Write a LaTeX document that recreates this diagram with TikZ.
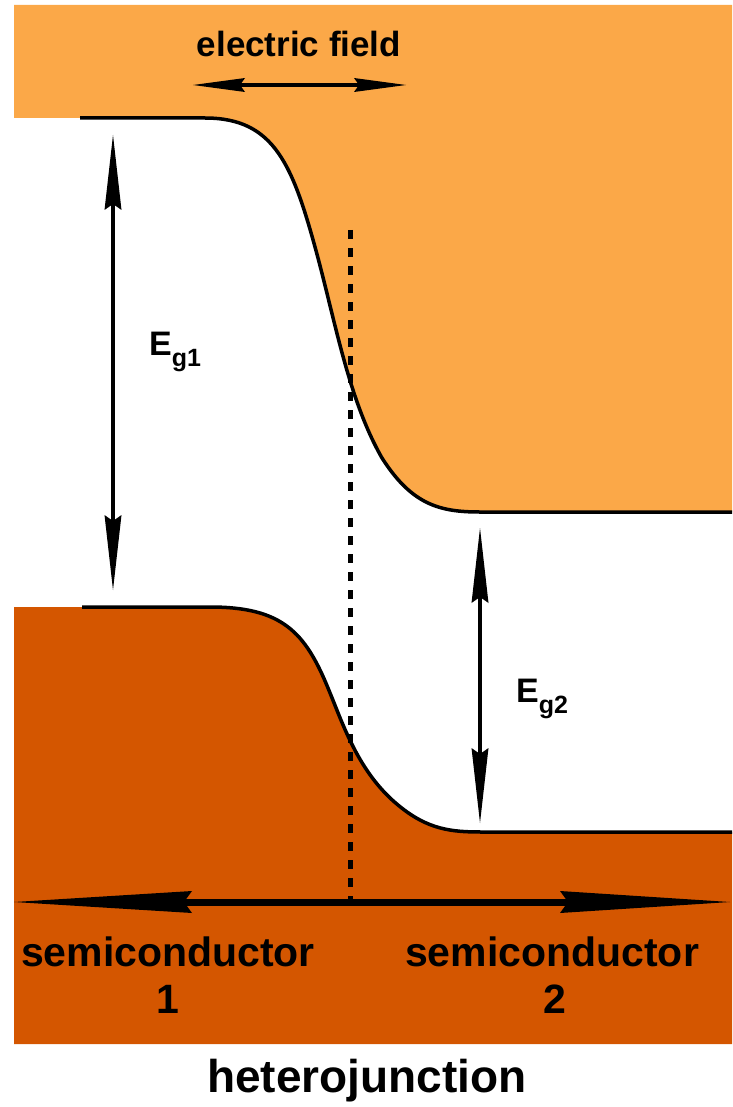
\documentclass[tikz,border=0pt]{standalone}
\usepackage{fontspec}
\setmainfont{Liberation Sans}
\usetikzlibrary{arrows.meta}
\definecolor{lightor}{RGB}{251,168,72}
\definecolor{darkor}{RGB}{212,86,0}
\def\uppercurve{(80,118) -- (205,118) .. controls (275,118) and (293,165) .. (318,258) .. controls (337,330) and (350,402) .. (382,458) .. controls (412,505) and (440,512) .. (480,512) -- (732,512)}
\def\lowercurve{(82,607) -- (210,607) .. controls (282,607) and (305,632) .. (328,688) .. controls (343,724) and (358,772) .. (398,805) .. controls (428,830) and (452,832) .. (482,832) -- (732,832)}
\tikzset{
  band/.style={line width=3.5pt, draw=black},
  lbl/.style={font=\bfseries, inner sep=0pt, text=black},
  gaparrow/.style={line width=4.5pt, {Stealth[length=75pt,width=17pt,inset=6pt,line width=0pt]}-{Stealth[length=75pt,width=17pt,inset=6pt,line width=0pt]}},
  fieldarrow/.style={line width=4.5pt, {Stealth[length=52pt,width=14pt,inset=5pt,line width=0pt]}-{Stealth[length=52pt,width=14pt,inset=5pt,line width=0pt]}},
  axisarrow/.style={line width=7pt, {Stealth[length=178pt,width=22pt,inset=8pt,line width=0pt]}-{Stealth[length=170pt,width=22pt,inset=8pt,line width=0pt]}},
  junction/.style={line width=5pt, dash pattern=on 9pt off 9pt}
}
\begin{document}
\begin{tikzpicture}[x=1pt,y=-1pt]
\useasboundingbox (0,0) rectangle (732,1107);
% fills
\fill[lightor] (14,5) -- (14,118) -- \uppercurve -- (732,5) -- cycle;
\fill[darkor] (14,1044) -- (14,607) -- \lowercurve -- (732,1044) -- cycle;
% band edges
\draw[band] \uppercurve;
\draw[band] \lowercurve;
% coordinates
\coordinate (ef1) at (193,85);
\coordinate (ef2) at (406,85);
\coordinate (g1t) at (113,135);
\coordinate (g1b) at (113,590);
\coordinate (g2t) at (480,528);
\coordinate (g2b) at (480,823);
\coordinate (axl) at (14,902);
\coordinate (axr) at (730,902);
\coordinate (jt) at (350,230);
\coordinate (jb) at (350,899);
% junction line
\draw[junction] (jt) -- (jb);
% arrows
\draw[fieldarrow] (ef1) -- (ef2);
\draw[gaparrow] (g1t) -- (g1b);
\draw[gaparrow] (g2t) -- (g2b);
\draw[axisarrow] (axl) -- (axr);
% labels
\node[lbl, anchor=base, font=\bfseries\fontsize{35}{40}\selectfont] (ef) at (299,57) {electric field};
\node[lbl, anchor=base west, font=\bfseries\fontsize{34}{40}\selectfont] (eg1) at (149,355) {E\raisebox{-11pt}{\fontsize{25}{25}\selectfont g1}};
\node[lbl, anchor=base west, font=\bfseries\fontsize{34}{40}\selectfont] (eg2) at (516,702) {E\raisebox{-11pt}{\fontsize{25}{25}\selectfont g2}};
\node[lbl, anchor=base, font=\bfseries\fontsize{41}{46}\selectfont] (s1) at (168,966) {semiconductor};
\node[lbl, anchor=base, font=\bfseries\fontsize{41}{46}\selectfont] (n1) at (168,1013) {1};
\node[lbl, anchor=base, font=\bfseries\fontsize{41}{46}\selectfont] (s2) at (552,966) {semiconductor};
\node[lbl, anchor=base, font=\bfseries\fontsize{41}{46}\selectfont] (n2) at (555,1013) {2};
\node[lbl, anchor=base, font=\bfseries\fontsize{46}{50}\selectfont] (hj) at (367,1092) {heterojunction};
\end{tikzpicture}
\end{document}
